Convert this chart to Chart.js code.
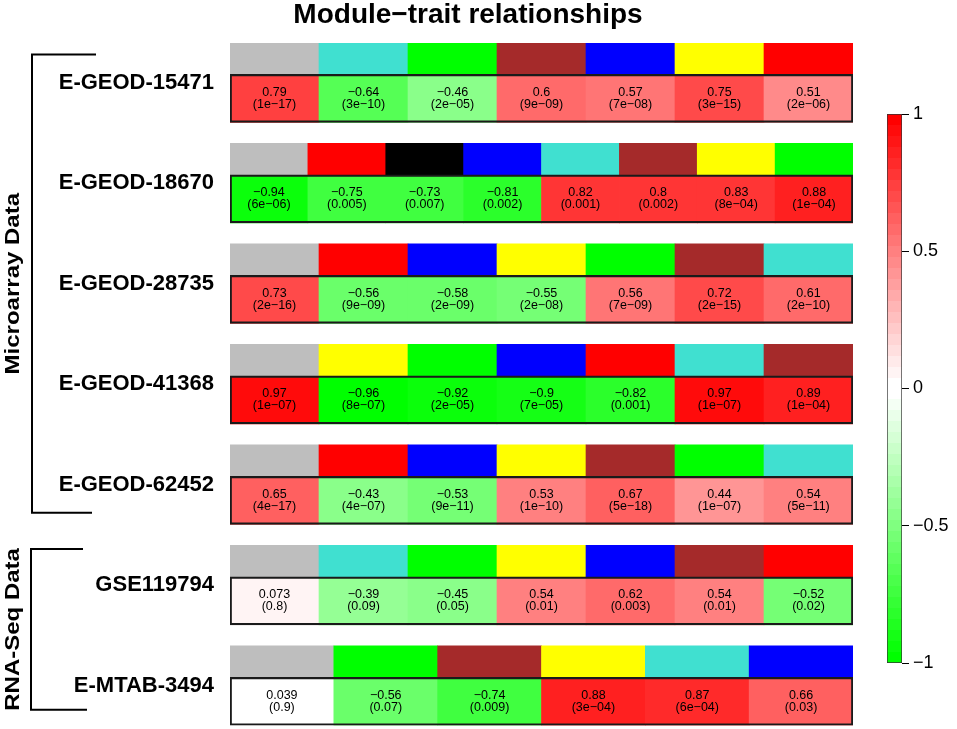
<!DOCTYPE html>
<html>
<head>
<meta charset="utf-8">
<script src="https://cdn.jsdelivr.net/npm/chart.js@4.4.1/dist/chart.umd.min.js"></script>
<style>
  html, body { margin: 0; padding: 0; background: #fff; }
  #wrap { position: relative; width: 957px; height: 729px; }
  #heat { position: absolute; left: 0; top: 0; }
  #legend { position: absolute; left: 860px; top: 95px; }
</style>
</head>
<body>
<div id="wrap">
  <canvas id="heat" width="957" height="729"></canvas>
  <canvas id="legend" width="97" height="600"></canvas>
</div>
<script>
/*---------data-----------*/
const studies = ['E-GEOD-15471', 'E-GEOD-18670', 'E-GEOD-28735', 'E-GEOD-41368', 'E-GEOD-62452', 'GSE119794', 'E-MTAB-3494'];
const groups = ['Microarray Data', 'RNA-Seq Data'];
const studyGroup = [0, 0, 0, 0, 0, 1, 1];

const modules = [
    ['grey', 'turquoise', 'green', 'brown', 'blue', 'yellow', 'red'],
    ['grey', 'red', 'black', 'blue', 'turquoise', 'brown', 'yellow', 'green'],
    ['grey', 'red', 'blue', 'yellow', 'green', 'brown', 'turquoise'],
    ['grey', 'yellow', 'green', 'blue', 'red', 'turquoise', 'brown'],
    ['grey', 'red', 'blue', 'yellow', 'brown', 'green', 'turquoise'],
    ['grey', 'turquoise', 'green', 'yellow', 'blue', 'brown', 'red'],
    ['grey', 'green', 'brown', 'yellow', 'turquoise', 'blue']
];
const cor = [
    [0.79, -0.64, -0.46, 0.6, 0.57, 0.75, 0.51],
    [-0.94, -0.75, -0.73, -0.81, 0.82, 0.8, 0.83, 0.88],
    [0.73, -0.56, -0.58, -0.55, 0.56, 0.72, 0.61],
    [0.97, -0.96, -0.92, -0.9, -0.82, 0.97, 0.89],
    [0.65, -0.43, -0.53, 0.53, 0.67, 0.44, 0.54],
    [0.073, -0.39, -0.45, 0.54, 0.62, 0.54, -0.52],
    [0.039, -0.56, -0.74, 0.88, 0.87, 0.66]
];
const pval = [
    ['1e-17', '3e-10', '2e-05', '9e-09', '7e-08', '3e-15', '2e-06'],
    ['6e-06', '0.005', '0.007', '0.002', '0.001', '0.002', '8e-04', '1e-04'],
    ['2e-16', '9e-09', '2e-09', '2e-08', '7e-09', '2e-15', '2e-10'],
    ['1e-07', '8e-07', '2e-05', '7e-05', '0.001', '1e-07', '1e-04'],
    ['4e-17', '4e-07', '9e-11', '1e-10', '5e-18', '1e-07', '5e-11'],
    ['0.8', '0.09', '0.05', '0.01', '0.003', '0.01', '0.02'],
    ['0.9', '0.07', '0.009', '3e-04', '6e-04', '0.03']
];
const scaleTicks = [-1, -0.5, 0, 0.5, 1];

/*---------styles / layout-----------*/
const moduleHex = {
    grey: '#BEBEBE', turquoise: '#40E0D0', green: '#00FF00', brown: '#A52A2A',
    blue: '#0000FF', yellow: '#FFFF00', red: '#FF0000', black: '#000000'
};
const FONT = '"Liberation Sans", Arial, sans-serif';
// positions inside one row block (1 unit = one study)
const COLOR_MID = 0.156;
const CELL_MID = 0.551;
const LABEL_MID = 0.395;
const Y_MAX = 6.79;
const brackets = [
    { x: 32, topOff: -0.28, botOff: 0.28, topArm: 96, botArm: 92, textX: 13 },
    { x: 31, topOff: -0.36, botOff: 0.24, topArm: 83, botArm: 87, textX: 13 }
];

const minus = s => s.replace(/-/g, '\u2212');

// WGCNA greenWhiteRed(50)
const N_COL = 50;
const palette = [];
for (let k = 0; k < N_COL; k++) {
    const half = N_COL / 2;
    let r, g, b;
    if (k < half) { const t = k / (half - 1); r = t; g = 1; b = t; }
    else { const t = (k - half) / (half - 1); r = 1; g = 1 - t; b = 1 - t; }
    palette.push('rgb(' + Math.round(r * 255) + ',' + Math.round(g * 255) + ',' + Math.round(b * 255) + ')');
}
function corColor(v) {
    const k = Math.min(N_COL - 1, Math.floor((v + 1) / 2 * (N_COL - 1)));
    return palette[k];
}

/*---------build bars-----------*/
const moduleBars = [], moduleFill = [];
const cellBars = [], cellFill = [], cellCor = [], cellP = [];
const outlineBars = [];
studies.forEach((name, i) => {
    const n = modules[i].length;
    modules[i].forEach((m, j) => {
        moduleBars.push({ x: [j / n, (j + 1) / n], y: i + COLOR_MID });
        moduleFill.push(moduleHex[m]);
        cellBars.push({ x: [j / n, (j + 1) / n], y: i + CELL_MID });
        cellFill.push(corColor(cor[i][j]));
        cellCor.push(cor[i][j]);
        cellP.push(pval[i][j]);
    });
    outlineBars.push({ x: [0, 1], y: i + CELL_MID });
});

/*---------plugins-----------*/
const cellText = {
    id: 'cellText',
    afterDatasetsDraw(chart) {
        const ctx = chart.ctx;
        const meta = chart.getDatasetMeta(2);
        ctx.save();
        ctx.fillStyle = '#000';
        ctx.font = '12.5px ' + FONT;
        ctx.textAlign = 'center';
        ctx.textBaseline = 'middle';
        meta.data.forEach((bar, k) => {
            const cx = (bar.x + bar.base) / 2;
            ctx.fillText(minus(String(cellCor[k])), cx, bar.y - 6);
            ctx.fillText('(' + minus(cellP[k]) + ')', cx, bar.y + 6);
        });
        ctx.restore();
    }
};

const decor = {
    id: 'decor',
    afterDraw(chart) {
        const ctx = chart.ctx;
        const ys = chart.scales.y;
        ctx.save();
        ctx.fillStyle = '#000';
        ctx.font = 'bold 28px ' + FONT;
        ctx.textAlign = 'center';
        ctx.textBaseline = 'alphabetic';
        ctx.fillText('Module\u2212trait relationships', 468, 23);

        ctx.strokeStyle = '#000';
        ctx.lineWidth = 2;
        groups.forEach((g, gi) => {
            const rows = studyGroup.map((s, i) => s === gi ? i : -1).filter(i => i >= 0);
            const b = brackets[gi];
            const top = ys.getPixelForValue(rows[0] + LABEL_MID + b.topOff);
            const bot = ys.getPixelForValue(rows[rows.length - 1] + LABEL_MID + b.botOff);
            ctx.beginPath();
            ctx.moveTo(b.topArm, top);
            ctx.lineTo(b.x, top);
            ctx.lineTo(b.x, bot);
            ctx.lineTo(b.botArm, bot);
            ctx.stroke();

            ctx.save();
            ctx.translate(b.textX, (top + bot) / 2);
            ctx.rotate(-Math.PI / 2);
            ctx.scale(1, 0.85);
            ctx.font = 'bold 24px ' + FONT;
            ctx.textAlign = 'center';
            ctx.textBaseline = 'middle';
            ctx.fillText(g, 0, 0);
            ctx.restore();
        });
        ctx.restore();
    }
};

/*---------heatmap chart-----------*/
new Chart(document.getElementById('heat'), {
    type: 'bar',
    data: {
        datasets: [
            {
                label: 'outline', data: outlineBars, order: 0,
                backgroundColor: 'rgba(0,0,0,0)', borderColor: '#1a1a1a', borderWidth: 1.5,
                borderSkipped: false, barThickness: 48
            },
            {
                label: 'modules', data: moduleBars, order: 1,
                backgroundColor: moduleFill, borderWidth: 0, barThickness: 31.5
            },
            {
                label: 'cells', data: cellBars, order: 1,
                backgroundColor: cellFill, borderWidth: 0, barThickness: 48
            }
        ]
    },
    options: {
        indexAxis: 'y',
        responsive: false,
        animation: false,
        events: [],
        datasets: { bar: { grouped: false } },
        layout: { padding: { left: 0, right: 104, top: 43, bottom: 3.6 } },
        plugins: { legend: { display: false }, tooltip: { enabled: false } },
        scales: {
            x: { type: 'linear', min: 0, max: 1, display: false },
            y: {
                type: 'linear', reverse: true, min: 0, max: Y_MAX, offset: false,
                afterBuildTicks: s => { s.ticks = studies.map((_, i) => ({ value: i + LABEL_MID })); },
                afterFit: s => { s.width = 230; s.paddingTop = 0; s.paddingBottom = 0; },
                grid: { display: false, drawTicks: false },
                border: { display: false },
                ticks: {
                    autoSkip: false, padding: 16, color: '#000',
                    font: { family: FONT, size: 22, weight: 'bold' },
                    callback: (v, i) => studies[i]
                }
            }
        }
    },
    plugins: [cellText, decor]
});

/*---------colour key-----------*/
function keyFill(chart) {
    const area = chart.chartArea;
    if (!area) return '#fff';
    const g = chart.ctx.createLinearGradient(0, area.bottom, 0, area.top);
    for (let k = 0; k < N_COL; k++) {
        g.addColorStop(k / N_COL, palette[k]);
        g.addColorStop((k + 1) / N_COL, palette[k]);
    }
    return g;
}

new Chart(document.getElementById('legend'), {
    type: 'bar',
    data: {
        labels: ['key'],
        datasets: [{
            data: [[scaleTicks[0], scaleTicks[scaleTicks.length - 1]]],
            backgroundColor: c => keyFill(c.chart),
            borderColor: '#333', borderWidth: 1, borderSkipped: false,
            barPercentage: 1, categoryPercentage: 1
        }]
    },
    options: {
        responsive: false,
        animation: false,
        events: [],
        layout: { padding: { left: 27, right: 0, top: 19, bottom: 32 } },
        plugins: { legend: { display: false }, tooltip: { enabled: false } },
        scales: {
            x: { display: false },
            y: {
                position: 'right',
                min: scaleTicks[0], max: scaleTicks[scaleTicks.length - 1],
                afterBuildTicks: s => { s.ticks = scaleTicks.map(v => ({ value: v })); },
                afterFit: s => { s.width = 55; s.paddingTop = 0; s.paddingBottom = 0; },
                grid: { drawOnChartArea: false, drawTicks: true, tickLength: 7, color: '#000', lineWidth: 1 },
                border: { display: false },
                ticks: {
                    color: '#000', padding: 4,
                    font: { family: FONT, size: 18 },
                    callback: v => minus(String(v))
                }
            }
        }
    }
});
</script>
</body>
</html>
